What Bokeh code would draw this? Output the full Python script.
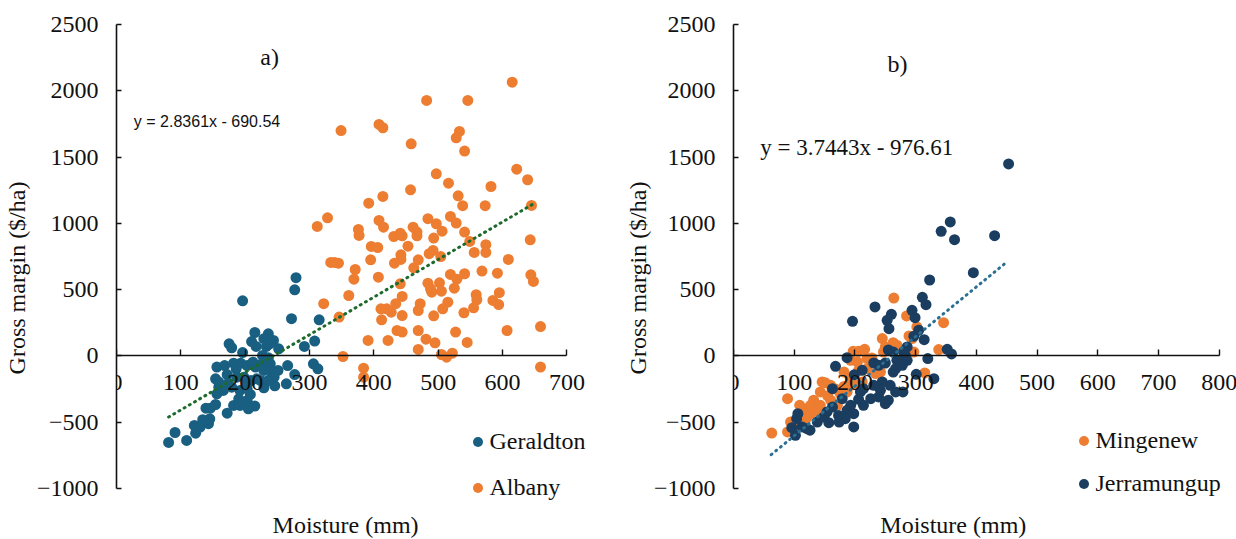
from bokeh.plotting import figure
from bokeh.layouts import row
from bokeh.models import Range1d, FixedTicker, Label, Legend, LegendItem
from bokeh.embed import file_html
from bokeh.resources import INLINE

# ---------------- data ----------------
geraldton_x = [279, 277, 196, 272, 315, 308, 292, 215, 236, 244, 210, 217, 175, 179, 196, 233, 252, 227, 236, 239,
               266, 306, 313, 277, 264, 246, 156, 168, 182, 193, 203, 216, 224, 229, 242, 251, 154, 172, 187, 198,
               209, 218, 229, 159, 166, 179, 192, 203, 208, 190, 203, 215, 205, 172, 182, 192, 154, 146, 139, 156,
               145, 134, 143, 121, 123, 109, 91, 81, 130, 224, 241, 233, 212, 186, 159, 203, 174, 245, 236, 229, 238]
geraldton_y = [590, 499, 416, 281, 273, 112, 72, 177, 167, 117, 109, 72, 92, 62, 26, 72, 54, 4, -14, -59,
               -72, -59, -97, -140, -210, -225, -84, -72, -54, -54, -72, -84, -64, -109, -122, -109, -172, -140, -160, -160,
               -185, -172, -240, -235, -260, -235, -260, -247, -290, -323, -336, -378, -398, -431, -373, -373, -366, -394, -394, -285,
               -474, -481, -511, -524, -582, -637, -577, -652, -537, -185, -167, -34, -47, -97, -197, -210, -205, -160, -185, 130, 92]

albany_x = [615, 482, 546, 349, 408, 414, 458, 533, 528, 541, 622, 639, 497, 516, 582, 531, 414, 457, 538, 573,
            645, 392, 312, 328, 408, 415, 376, 377, 431, 441, 444, 461, 467, 467, 484, 497, 493, 506, 519, 528,
            541, 549, 556, 574, 574, 609, 643, 644, 648, 659, 659, 396, 406, 395, 333, 339, 345, 371, 369, 407,
            322, 361, 346, 432, 442, 442, 453, 462, 469, 486, 492, 504, 519, 529, 525, 541, 568, 592, 595, 559,
            560, 555, 585, 594, 484, 488, 490, 502, 505, 515, 507, 493, 540, 527, 545, 505, 513, 522, 495, 481,
            469, 469, 472, 469, 444, 441, 434, 427, 420, 411, 412, 444, 436, 444, 422, 391, 352, 384, 384, 607]
albany_y = [2065, 1927, 1927, 1700, 1746, 1721, 1600, 1693, 1645, 1545, 1409, 1329, 1374, 1303, 1278, 1208, 1203, 1253, 1133, 1133,
            1135, 1152, 977, 1042, 1022, 971, 954, 909, 901, 926, 906, 971, 934, 906, 1035, 997, 889, 941, 1052, 1002,
            934, 864, 781, 839, 781, 728, 876, 612, 562, 222, -84, 826, 818, 725, 705, 705, 700, 652, 579, 594,
            394, 456, 293, 700, 728, 763, 828, 665, 725, 771, 796, 750, 615, 579, 511, 620, 640, 624, 477, 462,
            424, 363, 419, 388, 549, 507, 481, 552, 489, 406, 356, 303, 326, 180, 102, 11, -9, 21, 99, 127,
            192, 49, 394, 343, 449, 544, 394, 330, 356, 356, 273, 305, 192, 180, 117, 117, -4, -92, -160, 192]

mingenew_x = [264, 285, 346, 302, 289, 294, 245, 250, 263, 338, 315, 197, 206, 216, 193, 204, 220, 228, 182, 193,
              204, 151, 160, 143, 132, 121, 110, 89, 94, 89, 63, 127, 160, 176, 187, 212, 234, 247, 171, 143,
              116, 146, 220, 242, 127, 193, 206, 269, 297, 99, 109, 155, 168, 138, 182, 120]
mingenew_y = [437, 302, 251, 219, 151, 131, 131, 68, 100, 48, -128, 35, 35, 50, -33, -45, -20, -15, -121, -171,
              -221, -201, -221, -271, -334, -397, -447, -322, -498, -573, -581, -435, -334, -284, -271, -196, -133, 30, -372, -372,
              -498, -196, -96, -121, -372, -221, -108, 81, 30, -535, -372, -300, -250, -420, -230, -470]

jerramungup_x = [453, 357, 342, 364, 430, 395, 323, 311, 317, 233, 196, 260, 253, 256, 294, 299, 305, 297, 314, 286,
                 280, 352, 359, 320, 301, 330, 255, 263, 187, 168, 212, 199, 231, 239, 250, 269, 278, 263, 245, 231,
                 214, 206, 214, 226, 239, 255, 267, 279, 258, 163, 179, 187, 173, 163, 149, 138, 198, 157, 126, 113,
                 106, 96, 102, 121, 104, 174, 184, 154, 209, 286, 242, 250, 283, 267, 193, 198]
jerramungup_y = [1448, 1011, 940, 877, 907, 628, 573, 442, 387, 370, 261, 314, 269, 206, 344, 289, 194, 149, 123, 68,
                 30, 50, 15, -20, -138, -171, 45, 30, -13, -78, -108, -141, -53, -70, -53, -33, -70, -121, -196, -221,
                 -247, -327, -372, -322, -309, -334, -271, -271, -221, -247, -322, -410, -448, -385, -460, -498, -535, -503, -560, -535,
                 -435, -541, -598, -548, -473, -498, -473, -422, -271, -33, -259, -360, 5, -96, -372, -435]

# trend lines (Excel linear fits shown on the chart)
trend_a_slope, trend_a_intercept = 2.8361, -690.54
trend_a_x = [81, 651]
trend_b_slope, trend_b_intercept = 3.7443, -976.61
trend_b_x = [62, 452]

y_ticks = [-1000, -500, 0, 500, 1000, 1500, 2000, 2500]
x_ticks_a = [0, 100, 200, 300, 400, 500, 600, 700]
x_ticks_b = [0, 100, 200, 300, 400, 500, 600, 700, 800]

SERIF = "Liberation Serif"
AXIS_SERIF = "'Liberation Serif', 'Times New Roman', serif"
SANS = "Liberation Sans"

C_GER = "#185f82"
C_ALB = "#ED7D31"
C_MIN = "#ED7D31"
C_JER = "#1b3e60"


def base_fig(x_end, x_ticks, x_max, left, frame_w, right):
    p = figure(width=left + frame_w + right, height=539,
               frame_width=frame_w, frame_height=523,
               min_border_left=left, min_border_right=right,
               min_border_top=16, min_border_bottom=0,
               x_range=Range1d(0, x_end), y_range=Range1d(-1384, 2560),
               output_backend="svg", toolbar_location=None)
    p.outline_line_color = None
    p.xgrid.visible = False
    p.ygrid.visible = False
    p.background_fill_color = "white"
    p.border_fill_color = "white"

    xa = p.xaxis[0]
    xa.fixed_location = 0
    xa.bounds = (0, x_max)
    xa.ticker = FixedTicker(ticks=x_ticks)
    xa.major_tick_in = 6
    xa.major_tick_out = 0
    xa.minor_tick_line_color = None
    xa.axis_line_width = 1.6
    xa.axis_line_color = "#111111"
    xa.major_tick_line_width = 1.4
    xa.major_tick_line_color = "#111111"
    xa.major_label_standoff = 19
    xa.major_label_text_font = AXIS_SERIF
    xa.major_label_text_font_size = "24px"
    xa.major_label_text_color = "#111111"

    ya = p.yaxis[0]
    ya.bounds = (-1000, 2500)
    ya.ticker = FixedTicker(ticks=y_ticks)
    ya.major_tick_in = 5
    ya.major_tick_out = 0
    ya.minor_tick_line_color = None
    ya.axis_line_width = 1.6
    ya.axis_line_color = "#111111"
    ya.major_tick_line_width = 1.4
    ya.major_tick_line_color = "#111111"
    ya.major_label_standoff = 18
    ya.major_label_text_font = AXIS_SERIF
    ya.major_label_text_font_size = "24px"
    ya.major_label_text_color = "#111111"
    ya.axis_label = "Gross margin ($/ha)"
    ya.axis_label_text_font = AXIS_SERIF
    ya.axis_label_text_font_size = "24px"
    ya.axis_label_text_font_style = "normal"
    ya.axis_label_text_color = "#111111"
    ya.axis_label_standoff = 4
    return p


def add_legend(p, items, loc, spacing):
    leg = Legend(items=items, location=loc, orientation="vertical",
                 label_text_font=SERIF, label_text_font_size="24px", label_text_color="#111111",
                 glyph_width=25, glyph_height=27, label_height=27, label_standoff=0,
                 spacing=spacing, padding=0, margin=0,
                 border_line_color=None, background_fill_alpha=0)
    p.add_layout(leg)


# ---------------- chart a ----------------
pa = base_fig(760, x_ticks_a, 700, 113, 489, 16)
r_ger = pa.scatter(geraldton_x, geraldton_y, size=11, fill_color=C_GER, line_color=None)
r_alb = pa.scatter(albany_x, albany_y, size=11, fill_color=C_ALB, line_color=None)
pa.line(trend_a_x, [trend_a_slope * v + trend_a_intercept for v in trend_a_x],
        line_color="#1d6b2c", line_width=3, line_dash="1 5", line_cap="round")
add_legend(pa, [LegendItem(label="Geraldton", renderers=[r_ger]),
                LegendItem(label="Albany", renderers=[r_alb])], (348.5, 38.5), 19)
pa.add_layout(Label(x=238, y=2251, text="a)", text_font=SERIF, text_font_size="24px",
                    text_align="center", text_baseline="middle", text_color="#111111"))
pa.add_layout(Label(x=27, y=1768, text="y = 2.8361x - 690.54", text_font=SANS, text_font_size="16px",
                    text_align="left", text_baseline="middle", text_color="#111111"))
pa.add_layout(Label(x=356, y=-1278, text="Moisture (mm)", text_font=SERIF, text_font_size="24px",
                    text_align="center", text_baseline="middle", text_color="#111111"))

# ---------------- chart b ----------------
pb = base_fig(830, x_ticks_b, 800, 105, 504, 9)
pb.yaxis[0].axis_label_standoff = 0
r_min = pb.scatter(mingenew_x, mingenew_y, size=11, fill_color=C_MIN, line_color=None)
r_jer = pb.scatter(jerramungup_x, jerramungup_y, size=11, fill_color=C_JER, line_color=None)
pb.line(trend_b_x, [trend_b_slope * v + trend_b_intercept for v in trend_b_x],
        line_color="#2b6f92", line_width=3, line_dash="1 5", line_cap="round")
add_legend(pb, [LegendItem(label="Mingenew", renderers=[r_min]),
                LegendItem(label="Jerramungup", renderers=[r_jer])], (337.5, 42.5), 16)
pb.add_layout(Label(x=270, y=2202, text="b)", text_font=SERIF, text_font_size="24px",
                    text_align="center", text_baseline="middle", text_color="#111111"))
pb.add_layout(Label(x=44, y=1569, text="y = 3.7443x - 976.61", text_font=SERIF, text_font_size="23px",
                    text_align="left", text_baseline="middle", text_color="#111111"))
pb.add_layout(Label(x=362, y=-1278, text="Moisture (mm)", text_font=SERIF, text_font_size="24px",
                    text_align="center", text_baseline="middle", text_color="#111111"))

layout = row(pa, pb)
open("out.html", "w").write(file_html(layout, INLINE))
